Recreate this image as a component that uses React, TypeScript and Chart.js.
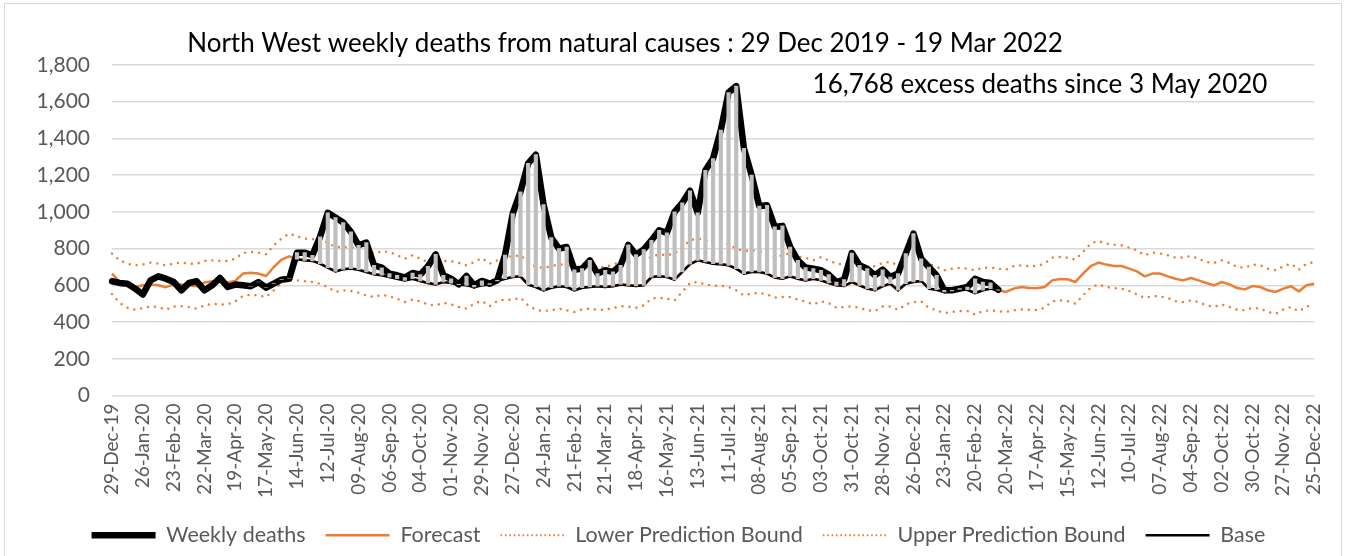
import React, { useEffect, useRef } from 'react';
import { Chart, registerables } from 'chart.js';

Chart.register(...registerables);

// ---------- data ----------
const MONTHS = ['Jan', 'Feb', 'Mar', 'Apr', 'May', 'Jun', 'Jul', 'Aug', 'Sep', 'Oct', 'Nov', 'Dec'];
const FIRST_WEEK = Date.UTC(2019, 11, 29);
const WEEK_COUNT = 157;
const TICK_EVERY = 4;
const WEEKS: string[] = Array.from({ length: WEEK_COUNT }, (_, i) => {
  const d = new Date(FIRST_WEEK + i * 7 * 86400000);
  return `${String(d.getUTCDate()).padStart(2, '0')}-${MONTHS[d.getUTCMonth()]}-${String(d.getUTCFullYear()).slice(2)}`;
});

const TITLE = 'North West weekly deaths from natural causes : 29 Dec 2019 - 19 Mar 2022';
const NOTE = '16,768 excess deaths since 3 May 2020';

const WEEKLY_DEATHS: number[] = [
  622, 613, 609, 582, 550, 627, 649, 636, 618, 573, 613, 622, 573, 600, 640, 591, 604, 600, 595, 618,
  587, 609, 631, 636, 778, 778, 764, 864, 995, 969, 942, 891, 818, 833, 709, 696, 664, 655, 642, 667,
  658, 704, 769, 655, 636, 605, 651, 600, 624, 609, 627, 765, 991, 1109, 1264, 1312, 1040, 860, 800, 809,
  685, 691, 736, 664, 682, 673, 709, 820, 767, 795, 845, 900, 886, 1000, 1049, 1115, 995, 1227, 1291, 1445,
  1650, 1685, 1346, 1200, 1031, 1036, 918, 924, 809, 736, 697, 691, 682, 658, 618, 631, 776, 709, 691, 654,
  685, 645, 664, 773, 882, 745, 700, 654, 573, 573, 582, 591, 636, 618, 613, 576,
];

const BASE_START = 18;
const BASE: number[] = [
  595, 618, 587, 609, 631, 636, 742, 736, 733, 718, 696, 676, 687, 691, 685, 673, 660, 655, 645, 636,
  627, 636, 624, 613, 605, 618, 612, 604, 600, 591, 600, 605, 624, 636, 645, 649, 604, 591, 573, 587,
  595, 591, 573, 587, 591, 595, 591, 595, 605, 600, 597, 600, 645, 649, 645, 631, 673, 715, 736, 727,
  718, 715, 709, 691, 664, 673, 673, 664, 642, 636, 649, 636, 627, 636, 627, 613, 600, 596, 618, 600,
  582, 573, 595, 609, 573, 609, 618, 624, 582, 576, 564, 569, 578, 576, 558, 573, 582, 573,
];

const FORECAST: number[] = [
  664, 618, 609, 590, 600, 605, 600, 590, 605, 604, 600, 595, 615, 622, 618, 615, 624, 664, 669, 664,
  651, 700, 740, 758, 742, 736, 733, 718, 696, 676, 687, 691, 685, 673, 660, 655, 645, 636, 627, 636,
  624, 613, 605, 618, 612, 604, 600, 591, 600, 605, 624, 636, 645, 649, 604, 591, 573, 587, 595, 591,
  573, 587, 591, 595, 591, 595, 605, 600, 597, 600, 645, 649, 645, 631, 673, 715, 736, 727, 718, 715,
  709, 691, 664, 673, 673, 664, 642, 636, 649, 636, 627, 636, 627, 613, 600, 596, 618, 600, 582, 573,
  595, 609, 573, 609, 618, 624, 582, 576, 564, 569, 578, 576, 558, 573, 582, 573, 564, 582, 591, 585,
  584, 591, 627, 634, 633, 618, 664, 704, 724, 713, 705, 705, 691, 676, 649, 664, 664, 649, 636, 627,
  640, 627, 613, 600, 618, 605, 585, 578, 596, 591, 573, 564, 582, 595, 567, 600, 609,
];

const LOWER_BOUND: number[] = [
  553, 504, 478, 467, 476, 485, 482, 467, 485, 487, 482, 473, 491, 500, 496, 496, 513, 542, 549, 545,
  536, 573, 615, 631, 627, 622, 618, 609, 591, 564, 573, 569, 560, 545, 536, 549, 540, 527, 509, 522,
  513, 495, 491, 504, 497, 482, 473, 500, 515, 486, 515, 522, 522, 533, 491, 467, 460, 464, 473, 464,
  455, 469, 473, 467, 467, 476, 486, 484, 478, 491, 527, 533, 527, 518, 564, 613, 618, 605, 598, 598,
  591, 573, 545, 555, 558, 551, 533, 536, 536, 522, 512, 496, 513, 504, 478, 482, 485, 478, 464, 460,
  485, 485, 467, 496, 509, 513, 478, 464, 449, 455, 460, 460, 440, 460, 464, 458, 455, 464, 469, 467,
  465, 478, 513, 518, 514, 500, 545, 587, 605, 591, 585, 582, 569, 551, 531, 542, 540, 531, 514, 509,
  518, 509, 491, 482, 496, 482, 467, 464, 478, 473, 455, 445, 469, 482, 458, 485, 490,
];

const UPPER_BOUND: number[] = [
  773, 736, 718, 709, 713, 724, 718, 709, 718, 724, 718, 718, 733, 736, 733, 733, 745, 776, 782, 778,
  769, 818, 855, 882, 867, 855, 851, 855, 831, 809, 809, 805, 809, 795, 773, 785, 782, 764, 745, 764,
  745, 727, 736, 733, 732, 722, 709, 727, 749, 718, 736, 755, 758, 764, 727, 700, 696, 704, 715, 709,
  696, 704, 715, 700, 700, 713, 727, 725, 727, 736, 755, 769, 764, 773, 806, 845, 855, 845, 836, 831,
  824, 800, 787, 791, 787, 776, 755, 764, 776, 757, 750, 736, 754, 736, 718, 713, 722, 713, 700, 704,
  722, 727, 709, 733, 740, 751, 718, 700, 682, 691, 695, 691, 682, 696, 696, 691, 685, 705, 709, 704,
  705, 718, 751, 754, 751, 740, 782, 827, 842, 827, 822, 818, 805, 791, 764, 778, 773, 764, 751, 751,
  760, 745, 727, 722, 736, 722, 700, 696, 713, 709, 691, 682, 704, 718, 685, 718, 727,
];

// ---------- derived series for the library ----------
const pad = (arr: number[], start: number): (number | null)[] =>
  Array.from({ length: WEEK_COUNT }, (_, i) => (i >= start && i - start < arr.length ? arr[i - start] : null));

const weeklySeries = pad(WEEKLY_DEATHS, 0);
const baseSeries = pad(BASE, BASE_START);
const excessBars = Array.from({ length: WEEK_COUNT }, (_, i) =>
  baseSeries[i] != null && weeklySeries[i] != null ? [baseSeries[i] as number, weeklySeries[i] as number] : null
);

const FONT = 'Lato';
const ORANGE = '#ED7D31';
const GREY_TEXT = '#595959';

const decor = {
  id: 'decor',
  beforeDraw(chart: any) {
    const { ctx } = chart;
    ctx.save();
    ctx.fillStyle = '#ffffff';
    ctx.fillRect(0, 0, chart.width, chart.height);
    ctx.strokeStyle = '#D9D9D9';
    ctx.lineWidth = 1;
    ctx.strokeRect(4.5, 3.5, 1337, 600);
    ctx.restore();
  },
  afterDraw(chart: any) {
    const { ctx } = chart;
    ctx.save();
    ctx.fillStyle = '#000000';
    ctx.textAlign = 'center';
    ctx.textBaseline = 'middle';
    ctx.font = `26px ${FONT}`;
    ctx.fillText(TITLE, 625, 44);
    ctx.fillText(NOTE, 1040, 85);
    ctx.restore();
  },
};

export default function App() {
  const canvasRef = useRef<HTMLCanvasElement | null>(null);

  useEffect(() => {
    if (!canvasRef.current) return;
    const dotted = [0.01, 7];
    const chart = new Chart(canvasRef.current, {
      type: 'line',
      data: {
        labels: WEEKS,
        datasets: [
          {
            type: 'line',
            label: 'Weekly deaths',
            data: weeklySeries,
            borderColor: '#000000',
            backgroundColor: '#000000',
            borderWidth: 6.5,
            borderJoinStyle: 'round',
            borderCapStyle: 'round',
            pointRadius: 0,
            order: 1,
          },
          {
            type: 'line',
            label: 'Forecast',
            data: FORECAST,
            borderColor: ORANGE,
            backgroundColor: ORANGE,
            borderWidth: 2.5,
            borderJoinStyle: 'round',
            pointRadius: 0,
            order: 3,
          },
          {
            type: 'line',
            label: 'Lower Prediction Bound',
            data: LOWER_BOUND,
            borderColor: ORANGE,
            backgroundColor: ORANGE,
            borderWidth: 2.5,
            borderDash: dotted,
            borderCapStyle: 'round',
            pointRadius: 0,
            order: 4,
          },
          {
            type: 'line',
            label: 'Upper Prediction Bound',
            data: UPPER_BOUND,
            borderColor: ORANGE,
            backgroundColor: ORANGE,
            borderWidth: 2.5,
            borderDash: dotted,
            borderCapStyle: 'round',
            pointRadius: 0,
            order: 5,
          },
          {
            type: 'line',
            label: 'Base',
            data: baseSeries,
            borderColor: '#000000',
            backgroundColor: '#000000',
            borderWidth: 2.5,
            pointRadius: 0,
            order: 2,
          },
          {
            type: 'bar',
            label: 'Excess',
            data: excessBars as any,
            backgroundColor: '#BFBFBF',
            borderWidth: 0,
            barThickness: 3.5,
            grouped: false,
            order: 0,
          },
        ] as any,
      },
      options: {
        responsive: false,
        animation: false,
        devicePixelRatio: 1,
        events: [],
        layout: { padding: { left: 30, right: 18, top: 65, bottom: 0 } },
        scales: {
          x: {
            offset: false,
            grid: { display: false, drawTicks: false },
            border: { display: false },
            ticks: {
              autoSkip: false,
              minRotation: 90,
              maxRotation: 90,
              padding: 8,
              color: GREY_TEXT,
              font: { family: FONT, size: 19 },
              callback: (_v: any, i: number) => (i % TICK_EVERY === 0 ? WEEKS[i] : null),
            },
            afterFit: (s: any) => {
              s.height = 109;
            },
          },
          y: {
            min: 0,
            max: 1800,
            grid: { color: '#D9D9D9', lineWidth: 1.5, drawTicks: false },
            border: { display: false },
            ticks: {
              stepSize: 200,
              padding: 22,
              color: GREY_TEXT,
              font: { family: FONT, size: 21 },
              callback: (v: any) => Number(v).toLocaleString('en-US'),
            },
            afterFit: (s: any) => {
              s.width = 82;
            },
          },
        },
        plugins: {
          title: { display: false },
          tooltip: { enabled: false },
          legend: {
            position: 'bottom',
            labels: {
              usePointStyle: true,
              pointStyle: 'line',
              pointStyleWidth: 64,
              padding: 20,
              color: GREY_TEXT,
              font: { family: FONT, size: 21.5 },
              generateLabels: (c: any) =>
                c.data.datasets
                  .map((ds: any, i: number) => ({
                    text: ds.label,
                    datasetIndex: i,
                    hidden: false,
                    pointStyle: 'line',
                    fillStyle: ds.borderColor,
                    strokeStyle: ds.borderColor,
                    fontColor: GREY_TEXT,
                    lineWidth: ds.borderDash ? 2 : ds.borderWidth,
                    lineDash: ds.borderDash ? [1.6, 2.8] : [],
                    lineCap: 'butt',
                  }))
                  .filter((item: any) => item.text !== 'Excess'),
            },
          },
        },
      } as any,
      plugins: [decor],
    });
    return () => chart.destroy();
  }, []);

  return (
    <div style={{ position: 'fixed', left: 0, top: 0, width: 1345, height: 556, background: '#fff' }}>
      <canvas ref={canvasRef} width={1345} height={556} style={{ display: 'block', width: 1345, height: 556 }} />
    </div>
  );
}
